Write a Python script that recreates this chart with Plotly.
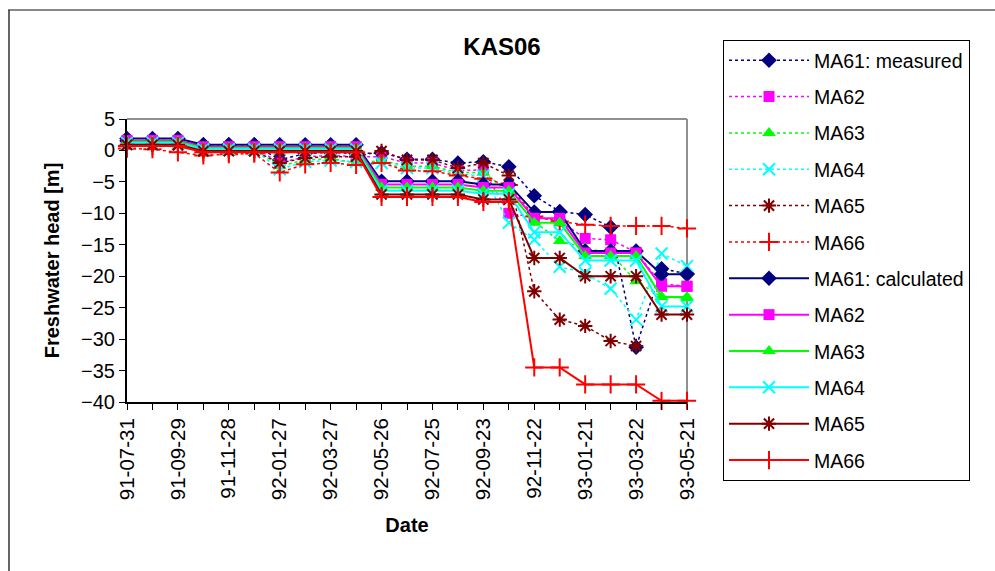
import plotly.graph_objects as go

dates = ["1991-07-31", "1991-08-30", "1991-09-29", "1991-10-29", "1991-11-28", "1991-12-28",
         "1992-01-27", "1992-02-26", "1992-03-27", "1992-04-26", "1992-05-26", "1992-06-25",
         "1992-07-25", "1992-08-24", "1992-09-23", "1992-10-23", "1992-11-22", "1992-12-22",
         "1993-01-21", "1993-02-20", "1993-03-22", "1993-04-21", "1993-05-21"]
tick_dates = dates[::2]

# measured heads [m]
ma61_meas = [1.5, 1.6, 1.6, 0.9, 0.9, 0.9, -1.5, -0.5, -0.3, -0.5, -0.4, -1.4, -1.4, -2.0, -1.8, -2.6,
             -7.2, -9.7, -10.2, -12.2, -31.3, -18.8, -19.6]
ma62_meas = [1.3, 1.4, 1.3, 0.5, 0.6, 0.5, -2.0, -1.0, -0.8, -1.0, -1.0, -2.0, -2.0, -3.2, -3.1, -10.0,
             -10.6, -11.2, -14.0, -14.2, -16.2, -21.2, -21.6]
ma63_meas = [1.2, 1.2, 1.1, 0.3, 0.4, 0.3, -2.5, -1.5, -1.3, -2.0, -1.6, -2.5, -2.5, -3.5, -3.5, -6.5,
             -11.3, -14.4, -15.5, -16.4, -20.8, -23.3, -23.5]
ma64_meas = [1.0, 1.0, 1.0, 0.1, 0.2, 0.1, -3.0, -1.8, -1.6, -1.8, -2.0, -2.8, -2.8, -3.8, -4.0, -11.5,
             -14.2, -18.5, -19.5, -22.0, -26.9, -16.4, -18.4]
ma65_meas = [0.9, 0.9, 0.8, -0.1, 0.0, -0.1, -2.0, -1.2, -1.0, -1.0, -0.1, -1.5, -1.5, -2.8, -2.0, -4.0,
             -22.4, -26.9, -27.9, -30.3, -31.1, None, None]
ma66_meas = [0.3, 0.2, -0.3, -0.8, -0.6, -0.5, -3.5, -2.2, -2.0, -2.3, -2.0, -3.2, -3.3, -4.0, -4.5, -5.5,
             -10.5, -11.3, -11.8, -12.0, -12.0, -12.0, -12.4]

# calculated heads [m]
ma61_calc = [1.9, 1.9, 1.9, 0.9, 0.9, 0.9, 0.9, 0.9, 0.9, 0.9, -4.9, -4.9, -4.9, -4.9, -5.4, -5.4,
             -9.8, -9.8, -16.0, -16.0, -16.0, -19.7, -19.7]
ma62_calc = [1.6, 1.6, 1.6, 0.6, 0.6, 0.6, 0.6, 0.6, 0.6, 0.6, -5.4, -5.4, -5.4, -5.4, -5.9, -5.9,
             -10.8, -10.8, -16.3, -16.3, -16.3, -21.6, -21.6]
ma63_calc = [1.4, 1.4, 1.4, 0.4, 0.4, 0.4, 0.4, 0.4, 0.4, 0.4, -5.9, -5.9, -5.9, -5.9, -6.4, -6.4,
             -11.5, -11.5, -16.8, -16.8, -16.8, -23.3, -23.3]
ma64_calc = [1.2, 1.2, 1.2, 0.2, 0.2, 0.2, 0.2, 0.2, 0.2, 0.2, -6.4, -6.4, -6.4, -6.4, -6.9, -6.9,
             -13.0, -13.0, -17.5, -17.5, -17.5, -24.8, -24.8]
ma65_calc = [0.9, 0.9, 0.9, -0.1, -0.1, -0.1, -0.1, -0.1, -0.1, -0.1, -7.0, -7.0, -7.0, -7.0, -7.8, -7.8,
             -17.1, -17.1, -20.0, -20.0, -20.0, -26.1, -26.1]
ma66_calc = [0.7, 0.7, 0.7, -0.3, -0.3, -0.3, -0.3, -0.3, -0.3, -0.3, -7.4, -7.4, -7.4, -7.4, -8.2, -8.2,
             -34.5, -34.5, -37.2, -37.2, -37.2, -39.8, -39.8]

names_meas = ["MA61: measured", "MA62", "MA63", "MA64", "MA65", "MA66"]
names_calc = ["MA61: calculated", "MA62", "MA63", "MA64", "MA65", "MA66"]
colors = ["#000080", "#FF00FF", "#00FF00", "#00FFFF", "#800000", "#FF0000"]
symbols = ["diamond", "square", "triangle-up", "x-thin-open", "asterisk-open", "cross-thin-open"]
sizes = [12, 11, 12, 12, 12, 13]

meas = [ma61_meas, ma62_meas, ma63_meas, ma64_meas, ma65_meas, ma66_meas]
calc = [ma61_calc, ma62_calc, ma63_calc, ma64_calc, ma65_calc, ma66_calc]

fig = go.Figure()

def add(series, name, color, symbol, size, dash, width, grp):
    thin = symbol.endswith("open")
    fig.add_trace(go.Scatter(
        x=dates, y=series, name=name, mode="lines+markers",
        legendgroup=grp, cliponaxis=False, connectgaps=False,
        line=dict(color=color, width=width, dash=dash),
        marker=dict(symbol=symbol, size=size, color=color,
                    line=dict(color=color, width=2 if thin else 0)),
    ))

for i in range(6):
    add(meas[i], names_meas[i], colors[i], symbols[i], sizes[i], "3px,3px", 1.5, "m%d" % i)
for i in range(6):
    add(calc[i], names_calc[i], colors[i], symbols[i], sizes[i], "solid", 2, "c%d" % i)

L, R, T, B = 127, 687, 119, 402
W, H = 995, 571
pw, ph = R - L, B - T

def px(x):
    return (x - L) / pw

def py(y):
    return (B - y) / ph

fig.update_layout(
    width=W, height=H,
    margin=dict(l=L, r=W - R, t=T, b=H - B),
    paper_bgcolor="white", plot_bgcolor="white",
    font=dict(family="Liberation Sans, Arial, sans-serif", color="black", size=19),
    title=dict(text="<b>KAS06</b>", xref="paper", x=px(502), xanchor="center",
               y=1 - 47 / H, yanchor="middle", font=dict(size=24)),
    showlegend=True,
    legend=dict(x=px(723), y=py(40), xanchor="left", yanchor="top",
                bordercolor="black", borderwidth=1, bgcolor="white",
                font=dict(size=19.5), tracegroupgap=8, itemwidth=80, maxheight=480),
    xaxis=dict(
        type="date", range=[dates[0], dates[-1]],
        tickmode="array", tickvals=tick_dates, tickformat="%y-%m-%d",
        tickangle=-90, ticks="outside", ticklen=6, tickcolor="black", tickwidth=1,
        minor=dict(tickmode="array", tickvals=dates, ticks="outside", ticklen=6,
                   tickcolor="black", tickwidth=1, showgrid=False),
        showline=True, linecolor="black", linewidth=2, showgrid=False, zeroline=False,
        title=dict(text="<b>Date</b>", font=dict(size=20), standoff=19),
        tickfont=dict(size=20.5),
    ),
    yaxis=dict(
        range=[-40, 5], tickmode="linear", tick0=-40, dtick=5,
        ticks="outside", ticklen=6, tickcolor="black", tickwidth=1,
        showline=True, linecolor="black", linewidth=2, showgrid=False, zeroline=False,
        title=dict(text="<b>Freshwater head [m]</b>", font=dict(size=20), standoff=16),
        tickfont=dict(size=20),
    ),
    shapes=[
        dict(type="line", xref="paper", yref="paper", x0=0, x1=1, y0=1, y1=1,
             line=dict(color="#909090", width=2), layer="below"),
        dict(type="line", xref="paper", yref="paper", x0=1, x1=1, y0=0, y1=1,
             line=dict(color="#909090", width=2), layer="below"),
        dict(type="line", xref="paper", yref="paper", x0=px(8), x1=px(1000), y0=py(10), y1=py(10),
             line=dict(color="#888888", width=2)),
        dict(type="line", xref="paper", yref="paper", x0=px(9), x1=px(9), y0=py(10), y1=py(580),
             line=dict(color="#333333", width=1.5)),
    ],
)

fig.write_html("out.html")
